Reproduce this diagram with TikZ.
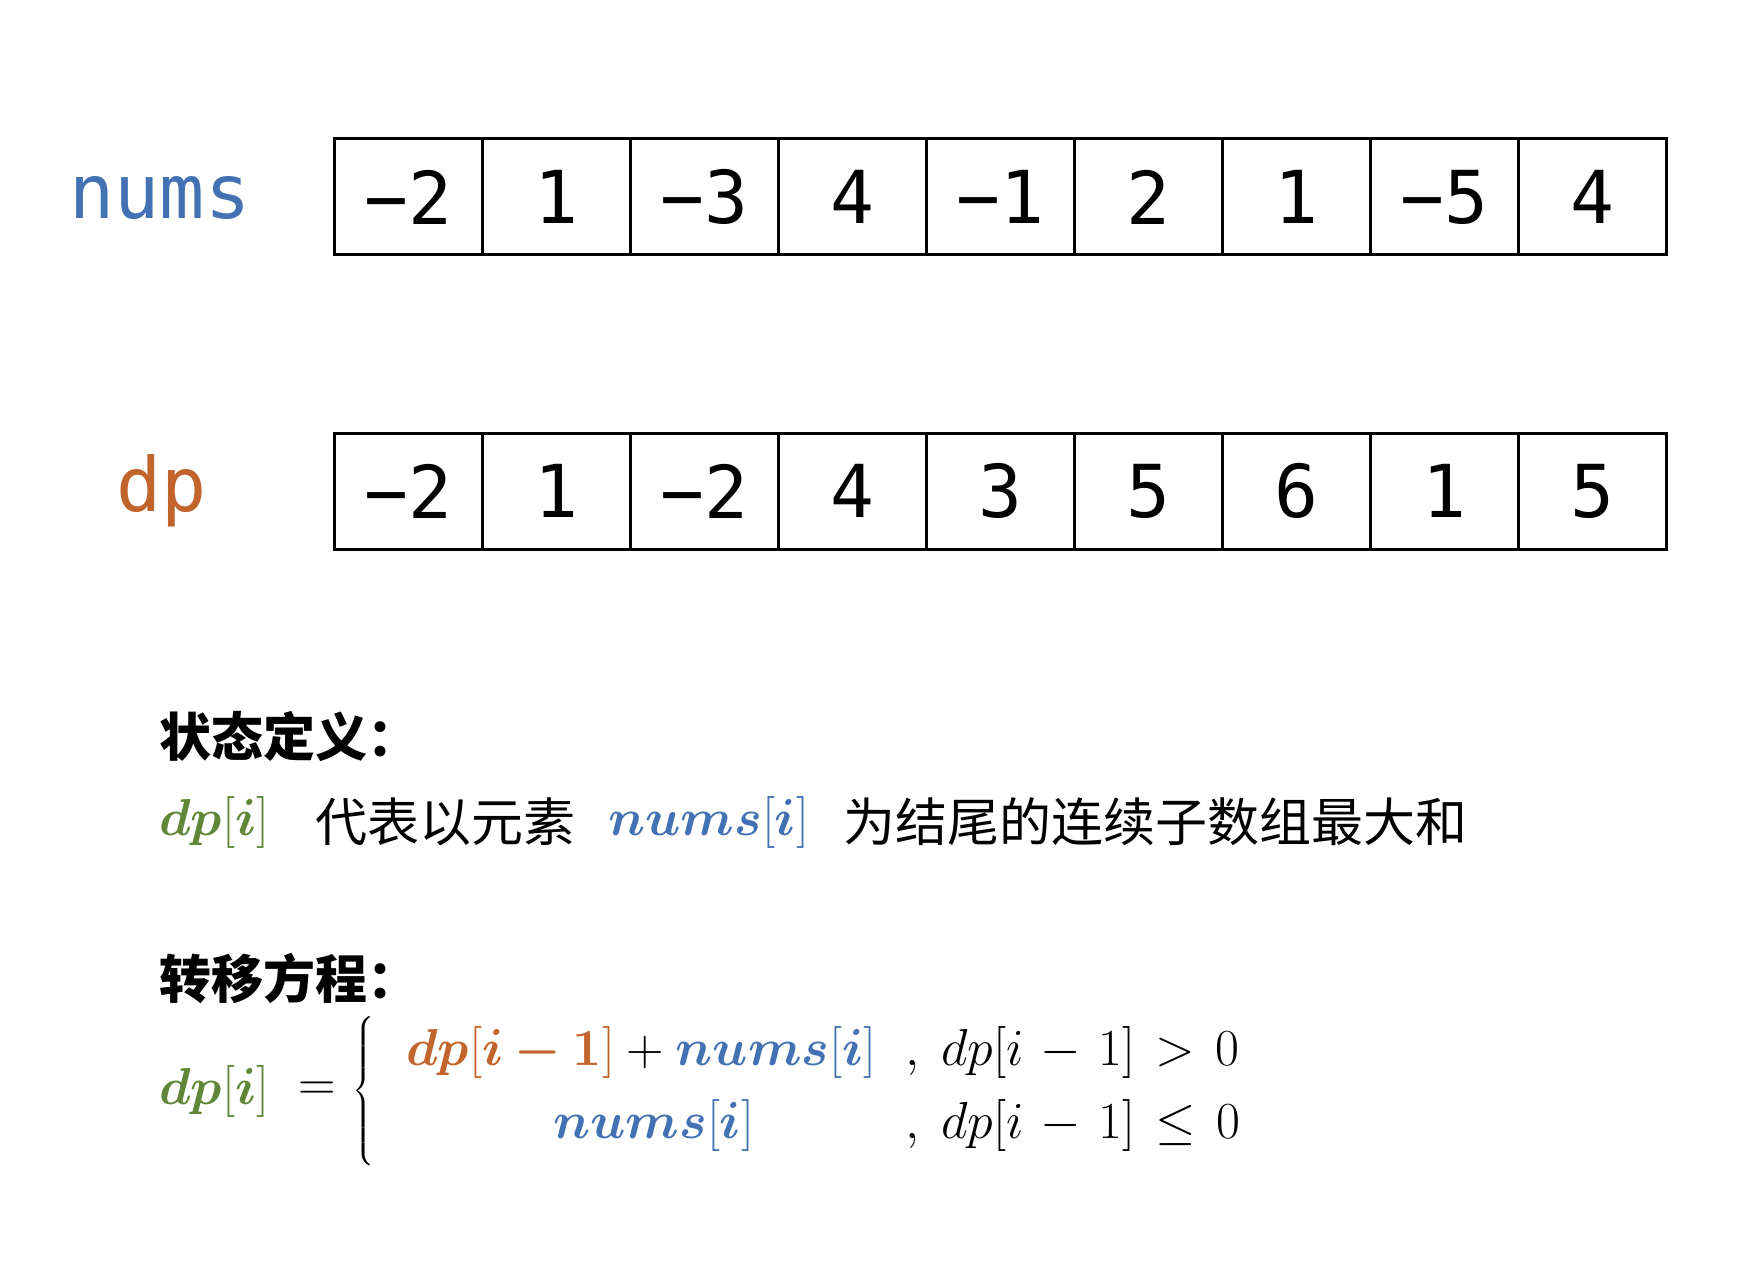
\RequirePackage{fix-cm}
\documentclass[tikz,border=0pt]{standalone}
\usepackage{amsmath,bm}
\usepackage{fontspec}
\newfontfamily\cjk{Noto Sans CJK SC}
\newfontfamily\monof{DejaVu Sans Mono}
\definecolor{numblue}{RGB}{67,114,180}
\definecolor{dporange}{RGB}{193,101,45}
\definecolor{dpgreen}{RGB}{95,135,55}
\tikzset{
 cell/.style={draw, line width=3pt, minimum width=148.1pt, minimum height=116pt, inner sep=0pt, font=\monof\fontsize{73}{80}\selectfont},
 lab/.style={inner sep=0pt, font=\monof\fontsize{75}{80}\selectfont},
 cjkt/.style={anchor=west, inner sep=0pt, font=\cjk\fontsize{52}{60}\selectfont},
 cjkh/.style={anchor=west, inner sep=0pt, font=\cjk\bfseries\fontsize{52}{60}\selectfont},
 mth/.style={anchor=west, inner sep=0pt, font=\fontsize{52}{60}\selectfont},
}
\begin{document}
\begin{tikzpicture}[x=1pt,y=-1pt]
\useasboundingbox[fill=white] (0,0) rectangle (1746,1284);
% labels
\node[lab, text=numblue] (numslab) at (160,198) {nums};
\node[lab, text=dporange] (dplab) at (162,491) {dp};
% arrays
\foreach \v [count=\i from 0] in {−2,1,−3,4,−1,2,1,−5,4}
  \node[cell] (n\i) at ({334+148.1*(\i+0.5)},197) {\v};
\foreach \v [count=\i from 0] in {−2,1,−2,4,3,5,6,1,5}
  \node[cell] (d\i) at ({334+148.1*(\i+0.5)},491) {\v};
% state definition
\node[cjkh] (h1) at (159,737) {状态定义：};
\node[mth, text=dpgreen] (s1) at (159,822) {$\bm{dp}[\bm{i}]$};
\node[cjkt] (s2) at (315,822) {代表以元素};
\node[mth, text=numblue] (s3) at (608,822) {$\bm{nums}[\bm{i}]$};
\node[cjkt] (s4) at (843,822) {为结尾的连续子数组最大和};
% transition
\node[cjkh] (h2) at (159,978) {转移方程：};
\node[mth, text=dpgreen] (lhs) at (159,1091) {$\bm{dp}[\bm{i}]$};
\node[mth] (eq) at (298,1091) {$=$};
\node[mth, anchor=center] (brace) at (364,1092) {$\left\{\rule[-64pt]{0pt}{128pt}\right.$};
\node[mth] (r1a) at (406,1052) {$\textcolor{dporange}{\bm{dp}[\bm{i-1}]}+\textcolor{numblue}{\bm{nums}[\bm{i}]}$};
\node[mth, anchor=base west] (c1) at (905,1065) {$,$};
\node[mth] (k1) at (941,1052) {$dp[i\mkern2mu-\mkern2mu1]\mkern2mu>\mkern2mu0$};
\node[mth, text=numblue] (r2a) at (553,1125) {$\bm{nums}[\bm{i}]$};
\node[mth, anchor=base west] (c2) at (905,1138) {$,$};
\node[mth] (k2) at (941,1125) {$dp[i\mkern2mu-\mkern2mu1]\mkern2mu\leq\mkern2mu0$};
\end{tikzpicture}
\end{document}
